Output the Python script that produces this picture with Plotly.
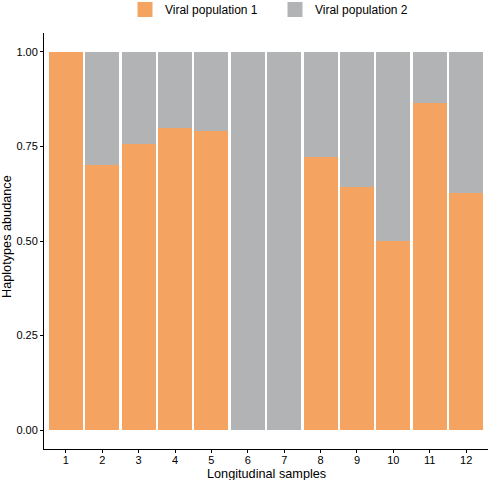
import plotly.graph_objects as go

samples = [1, 2, 3, 4, 5, 6, 7, 8, 9, 10, 11, 12]
pop1 = [1.0, 0.702, 0.757, 0.798, 0.791, 0.0, 0.0, 0.721, 0.643, 0.50, 0.865, 0.627]
pop2 = [0.0, 0.298, 0.243, 0.202, 0.209, 1.0, 1.0, 0.279, 0.357, 0.50, 0.135, 0.373]
series_names = ["Viral population 1", "Viral population 2"]
colors = ["#F4A460", "#B2B3B4"]
y_ticks = [0.0, 0.25, 0.5, 0.75, 1.0]
y_tick_text = ["0.00", "0.25", "0.50", "0.75", "1.00"]

W, H = 488, 480
ML, MR, MT, MB = 44, 0, 33, 31
plot_w = W - ML - MR
plot_h = H - MT - MB


def py(p):
    """pixel row -> paper y"""
    return (H - MB - p) / plot_h


def px(p):
    """pixel column -> paper x"""
    return (p - ML) / plot_w


fig = go.Figure()
for name, vals, col in zip(series_names, [pop1, pop2], colors):
    fig.add_trace(go.Bar(
        x=samples, y=vals, name=name, showlegend=False, legendgroup=name,
        marker=dict(color=col, line=dict(width=0)),
    ))
# legend keys (square swatches like ggplot's)
for name, col in zip(series_names, colors):
    fig.add_trace(go.Scatter(
        x=[None], y=[None], mode="markers", name=name, legendgroup=name,
        marker=dict(symbol="square", size=15, color=col),
    ))

fig.update_layout(
    barmode="stack",
    bargap=0.065,
    width=W, height=H,
    margin=dict(l=ML, r=MR, t=MT, b=MB, autoexpand=False),
    plot_bgcolor="white", paper_bgcolor="white",
    font=dict(family="Liberation Sans, Arial, sans-serif", color="black", size=11),
    legend=dict(
        orientation="h", x=px(125), xanchor="left", xref="paper",
        y=py(-5), yanchor="top", yref="paper",
        font=dict(size=12), itemwidth=30, traceorder="normal",
        entrywidth=105, entrywidthmode="pixels", itemsizing="trace",
    ),
    showlegend=True,
)
fig.add_annotation(text="Longitudinal samples", x=0.5, xref="paper",
                   y=py(465), yref="paper",
                   showarrow=False, font=dict(size=12.7), xanchor="center", yanchor="top")
fig.add_annotation(text="Haplotypes abudance", textangle=-90, x=px(7), xref="paper",
                   y=py(237), yref="paper", showarrow=False, font=dict(size=12.7),
                   xanchor="center", yanchor="middle")

fig.update_xaxes(
    range=[0.4, 12.6], tickvals=samples, ticktext=[str(s) for s in samples],
    showline=True, linecolor="black", linewidth=1, automargin=False,
    ticks="outside", ticklen=3, tickcolor="black", showgrid=False, zeroline=False,
    tickfont=dict(size=11), ticklabelstandoff=-2,
)
fig.update_yaxes(
    range=[-0.05, 1.05], tickvals=y_ticks, ticktext=y_tick_text,
    showline=True, linecolor="black", linewidth=1, automargin=False,
    ticks="outside", ticklen=3, tickcolor="black", showgrid=False, zeroline=False,
    tickfont=dict(size=11),
)

fig.write_html("out.html", config={"displayModeBar": False},
               post_script="document.body.style.margin='0';document.body.style.overflow='hidden';")
